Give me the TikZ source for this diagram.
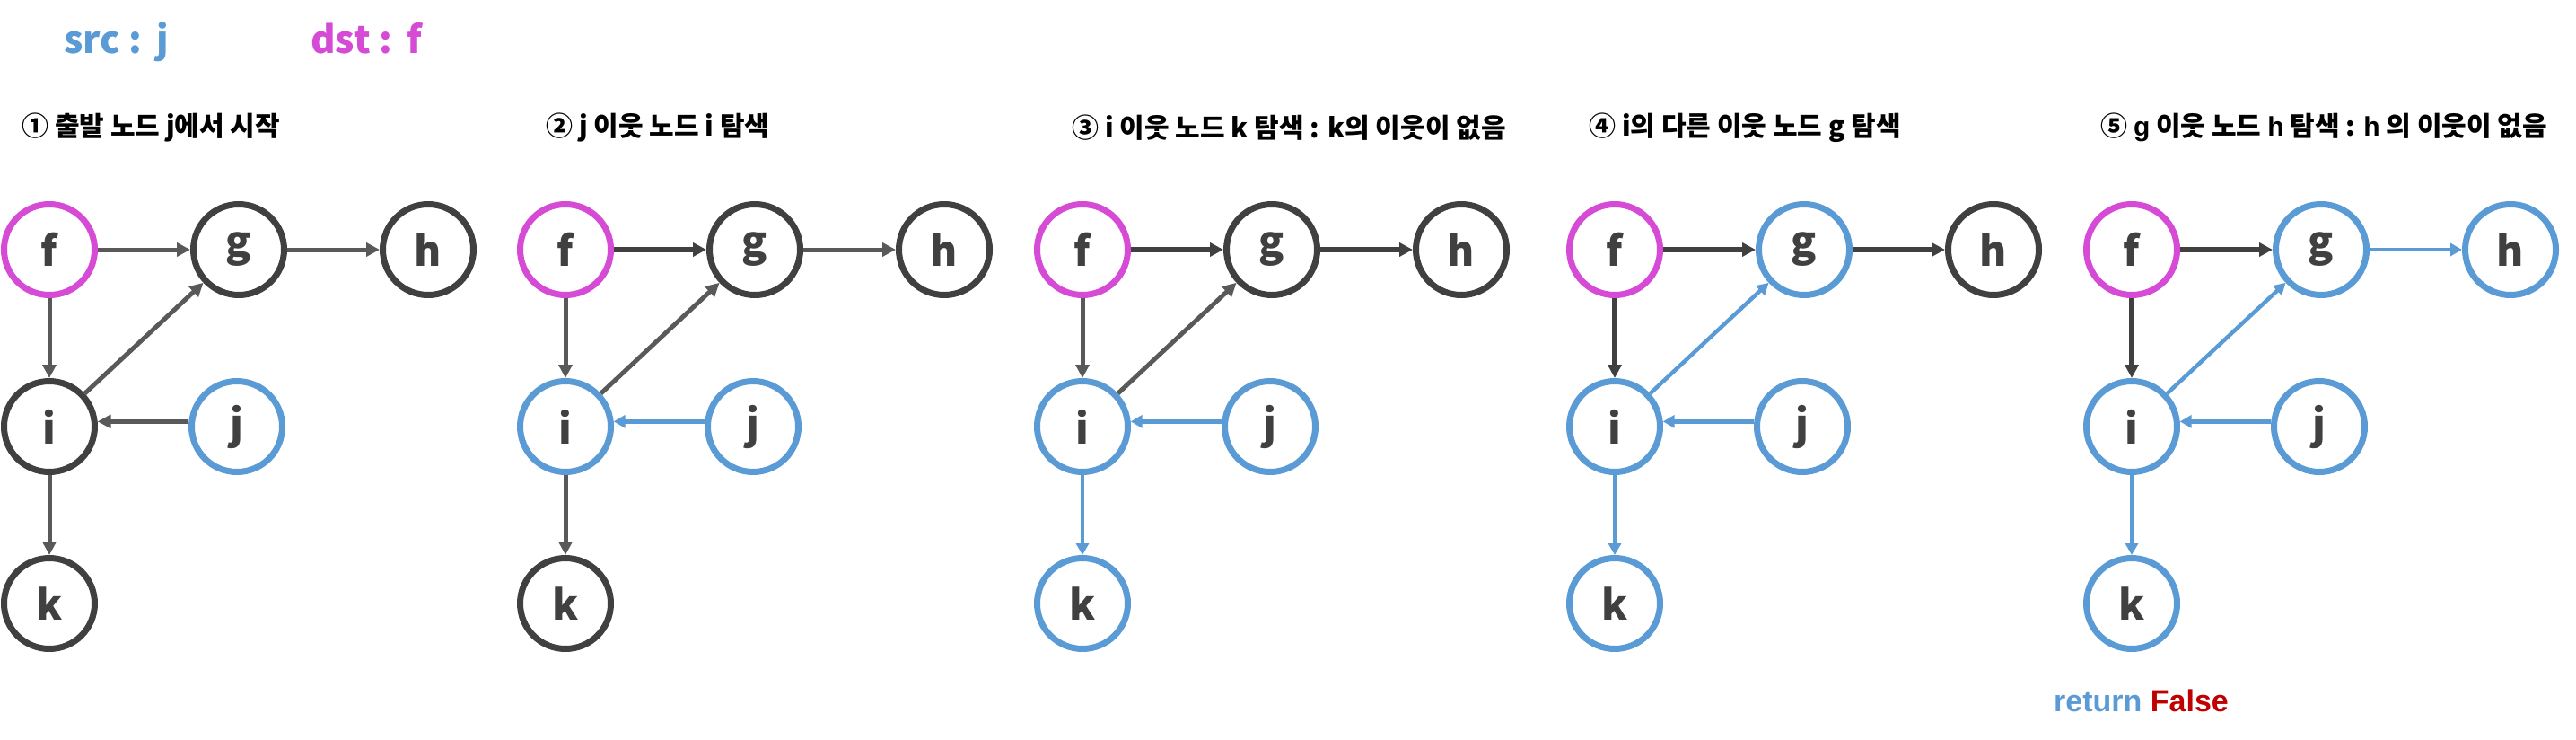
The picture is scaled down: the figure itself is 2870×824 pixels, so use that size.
\documentclass[tikz,border=0pt]{standalone}
\usepackage{fontspec}
\setmainfont{Noto Sans CJK KR}
\newfontfamily\lat{Liberation Sans}
\usetikzlibrary{arrows.meta}
\definecolor{dk}{HTML}{404040}
\definecolor{gr}{HTML}{595959}
\definecolor{bl}{HTML}{5B9BD5}
\definecolor{mg}{HTML}{D64BD6}
\definecolor{rd}{HTML}{C00000}
\tikzset{
  vtx/.style={circle, draw=dk, line width=7pt, minimum size=101pt, inner sep=0pt,
    font=\fontsize{46}{46}\selectfont\bfseries, text=dk},
  ge/.style={-{Triangle[length=15pt,width=15pt]}, line width=5pt, draw=gr},
  de/.style={-{Triangle[length=15pt,width=15pt]}, line width=5.5pt, draw=dk},
  be/.style={-{Triangle[length=13pt,width=14pt]}, line width=4.5pt, draw=bl},
  ttl/.style={anchor=west, inner sep=0pt, font=\fontsize{30}{32}\selectfont\bfseries, text=black},
  hdr/.style={anchor=base west, inner sep=0pt, font=\fontsize{42}{44}\selectfont\bfseries},
}
\begin{document}
\begin{tikzpicture}[x=1pt,y=-1pt]
\useasboundingbox (0,0) rectangle (2870,824);
% header
\node[hdr, text=bl] (src) at (71,60) {src :\hspace{16pt}j};
\node[hdr, text=mg] (dst) at (346,60) {dst :\hspace{16pt}f};
% titles
\node[ttl] (t1) at (24,142) {① 출발 노드 j에서 시작};
\node[ttl] (t2) at (608,142) {② j 이웃 노드 i 탐색};
\node[ttl] (t3) at (1194,142) {③ i 이웃 노드 k 탐색 : k의 이웃이 없음};
\node[ttl] (t4) at (1770,142) {④ i의 다른 이웃 노드 g 탐색};
\node[ttl] (t5) at (2340,142) {⑤ {\lat g} 이웃 노드 {\lat h} 탐색 : {\lat h} 의 이웃이 없음};
% panel 1
\begin{scope}[shift={(55,278)}]
\node[vtx,draw=mg] (f1) at (0,0) {f};
\node[vtx] (g1) at (211,0) {g};
\node[vtx] (h1) at (422,0) {h};
\node[vtx] (i1) at (0,197) {i};
\node[vtx,draw=bl] (j1) at (209,197) {j};
\node[vtx] (k1) at (0,394) {k};
\end{scope}
\draw[ge] (f1) -- (g1);
\draw[ge] (g1) -- (h1);
\draw[ge] (f1) -- (i1);
\draw[ge] (i1) -- (g1);
\draw[ge] (j1.174) -- (i1.6);
\draw[ge] (i1) -- (k1);
% panel 2
\begin{scope}[shift={(630,278)}]
\node[vtx,draw=mg] (f2) at (0,0) {f};
\node[vtx] (g2) at (211,0) {g};
\node[vtx] (h2) at (422,0) {h};
\node[vtx,draw=bl] (i2) at (0,197) {i};
\node[vtx,draw=bl] (j2) at (209,197) {j};
\node[vtx] (k2) at (0,394) {k};
\end{scope}
\draw[de] (f2) -- (g2);
\draw[ge] (g2) -- (h2);
\draw[ge] (f2) -- (i2);
\draw[ge] (i2) -- (g2);
\draw[be] (j2.174) -- (i2.6);
\draw[ge] (i2) -- (k2);
% panel 3
\begin{scope}[shift={(1206,278)}]
\node[vtx,draw=mg] (f3) at (0,0) {f};
\node[vtx] (g3) at (211,0) {g};
\node[vtx] (h3) at (422,0) {h};
\node[vtx,draw=bl] (i3) at (0,197) {i};
\node[vtx,draw=bl] (j3) at (209,197) {j};
\node[vtx,draw=bl] (k3) at (0,394) {k};
\end{scope}
\draw[de] (f3) -- (g3);
\draw[de] (g3) -- (h3);
\draw[ge] (f3) -- (i3);
\draw[ge] (i3) -- (g3);
\draw[be] (j3.174) -- (i3.6);
\draw[be] (i3) -- (k3);
% panel 4
\begin{scope}[shift={(1799,278)}]
\node[vtx,draw=mg] (f4) at (0,0) {f};
\node[vtx,draw=bl] (g4) at (211,0) {g};
\node[vtx] (h4) at (422,0) {h};
\node[vtx,draw=bl] (i4) at (0,197) {i};
\node[vtx,draw=bl] (j4) at (209,197) {j};
\node[vtx,draw=bl] (k4) at (0,394) {k};
\end{scope}
\draw[de] (f4) -- (g4);
\draw[de] (g4) -- (h4);
\draw[de] (f4) -- (i4);
\draw[be] (i4) -- (g4);
\draw[be] (j4.174) -- (i4.6);
\draw[be] (i4) -- (k4);
% panel 5
\begin{scope}[shift={(2375,278)}]
\node[vtx,draw=mg] (f5) at (0,0) {f};
\node[vtx,draw=bl] (g5) at (211,0) {g};
\node[vtx,draw=bl] (h5) at (422,0) {h};
\node[vtx,draw=bl] (i5) at (0,197) {i};
\node[vtx,draw=bl] (j5) at (209,197) {j};
\node[vtx,draw=bl] (k5) at (0,394) {k};
\end{scope}
\draw[de] (f5) -- (g5);
\draw[be] (g5) -- (h5);
\draw[de] (f5) -- (i5);
\draw[be] (i5) -- (g5);
\draw[be] (j5.174) -- (i5.6);
\draw[be] (i5) -- (k5);
% result
\node[anchor=base west, inner sep=0pt, font=\lat\fontsize{34}{36}\selectfont\bfseries] (ret) at (2288,792)
  {\textcolor{bl}{return} \textcolor{rd}{False}};
\end{tikzpicture}
\end{document}
